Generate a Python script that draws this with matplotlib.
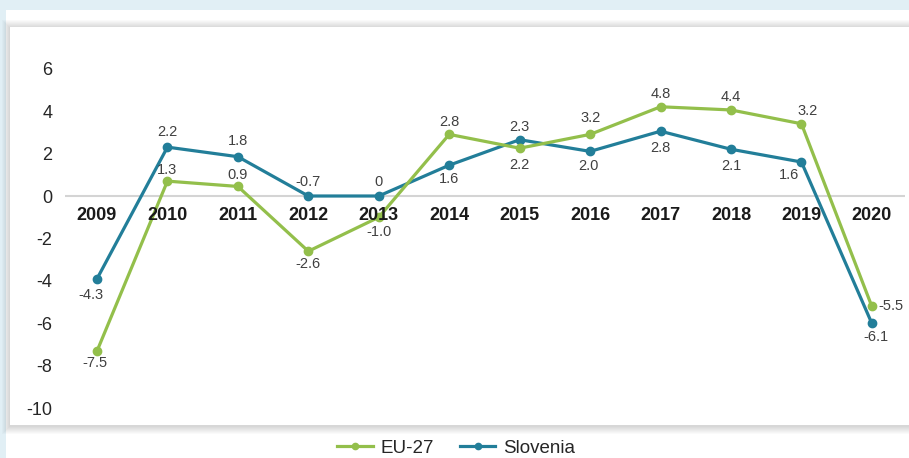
import numpy as np
import matplotlib
matplotlib.use("Agg")
import matplotlib.pyplot as plt
from matplotlib.patches import Rectangle
from matplotlib.lines import Line2D

plt.rcParams['font.family'] = ['Liberation Sans', 'DejaVu Sans']
plt.rcParams['axes.unicode_minus'] = False

years = ['2009', '2010', '2011', '2012', '2013', '2014',
         '2015', '2016', '2017', '2018', '2019', '2020']
# values as plotted in the picture
eu27 = [-7.3, 0.7, 0.45, -2.6, -1.0, 2.9, 2.25, 2.9, 4.2, 4.05, 3.4, -5.2]
slovenia = [-3.9, 2.3, 1.85, 0.0, 0.0, 1.45, 2.65, 2.1, 3.05, 2.2, 1.6, -6.0]
# value labels as printed in the picture
eu27_labels = ['-7.5', '1.3', '0.9', '-2.6', '-1.0', '2.8',
               '2.2', '3.2', '4.8', '4.4', '3.2', '-5.5']
slovenia_labels = ['-4.3', '2.2', '1.8', '-0.7', '0', '1.6',
                   '2.3', '2.0', '2.8', '2.1', '1.6', '-6.1']

# label offsets in pixels (dx, dy), positive dy = up
eu_off = [(-2, -12), (0, 11), (0, 11), (0, -13), (0, -15), (0, 12),
          (0, -17), (0, 16), (0, 13), (0, 13), (6, 13), (19, 0)]
si_off = [(-6, -16), (0, 15), (0, 16), (0, 14), (0, 14), (0, -14),
          (0, 13), (-2, -15), (0, -17), (0, -17), (-12, -13), (4, -14)]

green = '#93bf4b'
teal = '#227e99'

W, H = 909, 458
fig = plt.figure(figsize=(W / 100, H / 100), dpi=100)
fig.patch.set_facecolor('#e1eff5')


def frect(x0, y0, x1, y1, **kw):
    # rectangle in pixel coords measured from the top-left corner
    r = Rectangle((x0 / W, 1 - y1 / H), (x1 - x0) / W, (y1 - y0) / H,
                  transform=fig.transFigure, **kw)
    fig.add_artist(r)


frect(6, 10, W + 5, H + 5, facecolor='white', edgecolor='none', zorder=-20)
# soft shadow round the card
for k in range(8, 0, -1):
    frect(10 - k, 27 - k + 1, W + 20, 425 + k + 1, facecolor='#000000',
          edgecolor='none', alpha=0.018, zorder=-15)
frect(10, 27, W + 20, 425, facecolor='white', edgecolor='none', zorder=-10)

left, right = 65, 905
ytop, ybot = 57.9, 419.1
ax = fig.add_axes([left / W, 1 - ybot / H, (right - left) / W, (ybot - ytop) / H])
ax.set_facecolor('none')
ax.set_xlim(-0.454, 11.47)
ax.set_ylim(-10.5, 6.5)
for s in ax.spines.values():
    s.set_visible(False)
ax.set_xticks([])
ax.set_yticks(np.arange(-10, 7, 2))
ax.tick_params(axis='y', length=0, pad=9, labelsize=13, labelcolor='#262626')

ax.axhline(0, color='#d4d4d4', lw=1.5, zorder=1)

x = np.arange(len(years))
ax.plot(x, slovenia, color=teal, lw=2.3, marker='o', ms=6, zorder=3)
ax.plot(x, eu27, color=green, lw=2.3, marker='o', ms=6, zorder=3)

for i, yr in enumerate(years):
    ax.annotate(yr, (i, 0), xytext=(0, -19), textcoords='offset pixels',
                ha='center', va='center', fontsize=13, fontweight='bold',
                color='#1a1a1a', zorder=4)

for i in range(len(years)):
    dx, dy = eu_off[i]
    ax.annotate(eu27_labels[i], (i, eu27[i]), xytext=(dx, dy),
                textcoords='offset pixels', ha='center', va='center',
                fontsize=10.5, color='#404040', zorder=5)
    dx, dy = si_off[i]
    ax.annotate(slovenia_labels[i], (i, slovenia[i]), xytext=(dx, dy),
                textcoords='offset pixels', ha='center', va='center',
                fontsize=10.5, color='#404040', zorder=5)

handles = [Line2D([], [], color=green, lw=2.3, marker='o', ms=4.5),
           Line2D([], [], color=teal, lw=2.3, marker='o', ms=4.5)]
fig.legend(handles, ['EU-27', 'Slovenia'], loc='center',
           bbox_to_anchor=(456 / W, 1 - 448 / H), ncol=2, frameon=False,
           fontsize=13.5, handlelength=1.9, handletextpad=0.4,
           columnspacing=1.4, labelcolor='#262626')

fig.savefig('out.png', dpi=100, facecolor=fig.get_facecolor())
